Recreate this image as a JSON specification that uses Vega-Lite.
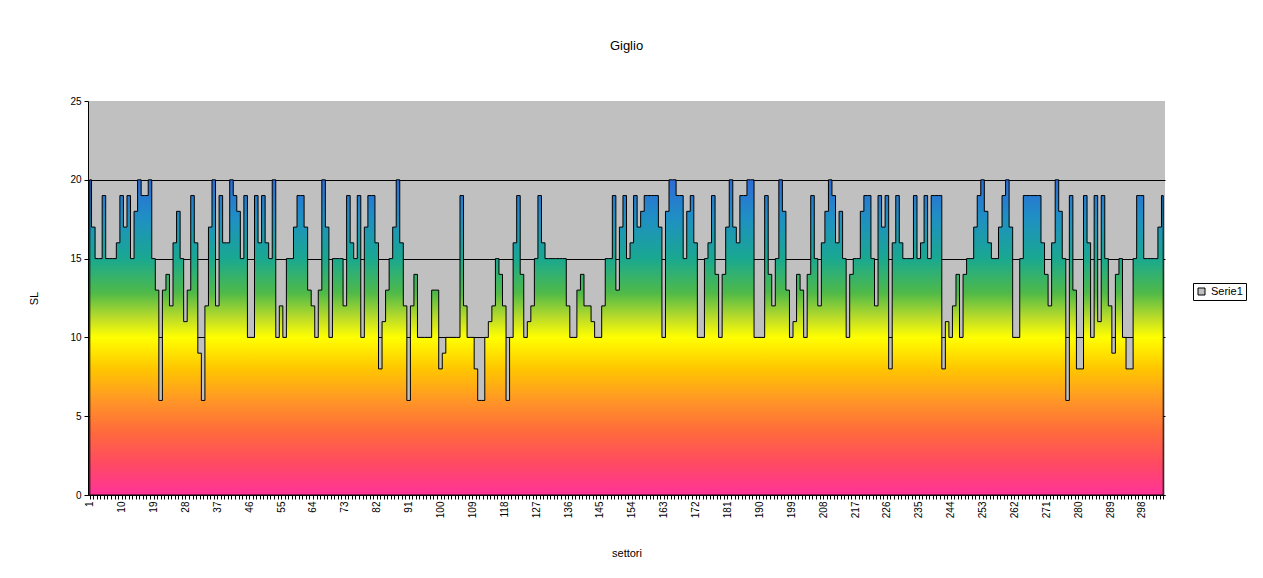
{
"$schema": "https://vega.github.io/schema/vega-lite/v6.json",
"width": 1077,
"height": 394,
"autosize": {"type": "none"},
"padding": {"left": 88, "top": 101, "right": 98, "bottom": 83},
"background": "white",
"title": {"text": "Giglio", "font": "Liberation Sans", "fontSize": 13, "fontWeight": "normal", "color": "black", "anchor": "middle", "frame": "group", "offset": 30, "baseline": "bottom"},
"config": {"view": {"fill": "#C0C0C0", "stroke": null}},
"data": {"values": [
{"settore":1,"SL":20},{"settore":2,"SL":17},{"settore":3,"SL":15},{"settore":4,"SL":15},{"settore":5,"SL":19},{"settore":6,"SL":15},{"settore":7,"SL":15},{"settore":8,"SL":15},{"settore":9,"SL":16},{"settore":10,"SL":19},
{"settore":11,"SL":17},{"settore":12,"SL":19},{"settore":13,"SL":15},{"settore":14,"SL":18},{"settore":15,"SL":20},{"settore":16,"SL":19},{"settore":17,"SL":19},{"settore":18,"SL":20},{"settore":19,"SL":15},{"settore":20,"SL":13},
{"settore":21,"SL":6},{"settore":22,"SL":13},{"settore":23,"SL":14},{"settore":24,"SL":12},{"settore":25,"SL":16},{"settore":26,"SL":18},{"settore":27,"SL":15},{"settore":28,"SL":11},{"settore":29,"SL":13},{"settore":30,"SL":19},
{"settore":31,"SL":16},{"settore":32,"SL":9},{"settore":33,"SL":6},{"settore":34,"SL":12},{"settore":35,"SL":17},{"settore":36,"SL":20},{"settore":37,"SL":12},{"settore":38,"SL":19},{"settore":39,"SL":16},{"settore":40,"SL":16},
{"settore":41,"SL":20},{"settore":42,"SL":19},{"settore":43,"SL":18},{"settore":44,"SL":15},{"settore":45,"SL":19},{"settore":46,"SL":10},{"settore":47,"SL":10},{"settore":48,"SL":19},{"settore":49,"SL":16},{"settore":50,"SL":19},
{"settore":51,"SL":16},{"settore":52,"SL":15},{"settore":53,"SL":20},{"settore":54,"SL":10},{"settore":55,"SL":12},{"settore":56,"SL":10},{"settore":57,"SL":15},{"settore":58,"SL":15},{"settore":59,"SL":17},{"settore":60,"SL":19},
{"settore":61,"SL":19},{"settore":62,"SL":17},{"settore":63,"SL":13},{"settore":64,"SL":12},{"settore":65,"SL":10},{"settore":66,"SL":13},{"settore":67,"SL":20},{"settore":68,"SL":17},{"settore":69,"SL":10},{"settore":70,"SL":15},
{"settore":71,"SL":15},{"settore":72,"SL":15},{"settore":73,"SL":12},{"settore":74,"SL":19},{"settore":75,"SL":16},{"settore":76,"SL":15},{"settore":77,"SL":19},{"settore":78,"SL":10},{"settore":79,"SL":17},{"settore":80,"SL":19},
{"settore":81,"SL":19},{"settore":82,"SL":16},{"settore":83,"SL":8},{"settore":84,"SL":11},{"settore":85,"SL":13},{"settore":86,"SL":15},{"settore":87,"SL":17},{"settore":88,"SL":20},{"settore":89,"SL":16},{"settore":90,"SL":12},
{"settore":91,"SL":6},{"settore":92,"SL":12},{"settore":93,"SL":14},{"settore":94,"SL":10},{"settore":95,"SL":10},{"settore":96,"SL":10},{"settore":97,"SL":10},{"settore":98,"SL":13},{"settore":99,"SL":13},{"settore":100,"SL":8},
{"settore":101,"SL":9},{"settore":102,"SL":10},{"settore":103,"SL":10},{"settore":104,"SL":10},{"settore":105,"SL":10},{"settore":106,"SL":19},{"settore":107,"SL":12},{"settore":108,"SL":10},{"settore":109,"SL":10},{"settore":110,"SL":8},
{"settore":111,"SL":6},{"settore":112,"SL":6},{"settore":113,"SL":10},{"settore":114,"SL":11},{"settore":115,"SL":12},{"settore":116,"SL":15},{"settore":117,"SL":14},{"settore":118,"SL":12},{"settore":119,"SL":6},{"settore":120,"SL":10},
{"settore":121,"SL":16},{"settore":122,"SL":19},{"settore":123,"SL":14},{"settore":124,"SL":10},{"settore":125,"SL":11},{"settore":126,"SL":12},{"settore":127,"SL":15},{"settore":128,"SL":19},{"settore":129,"SL":16},{"settore":130,"SL":15},
{"settore":131,"SL":15},{"settore":132,"SL":15},{"settore":133,"SL":15},{"settore":134,"SL":15},{"settore":135,"SL":15},{"settore":136,"SL":12},{"settore":137,"SL":10},{"settore":138,"SL":10},{"settore":139,"SL":13},{"settore":140,"SL":14},
{"settore":141,"SL":12},{"settore":142,"SL":12},{"settore":143,"SL":11},{"settore":144,"SL":10},{"settore":145,"SL":10},{"settore":146,"SL":12},{"settore":147,"SL":15},{"settore":148,"SL":15},{"settore":149,"SL":19},{"settore":150,"SL":13},
{"settore":151,"SL":17},{"settore":152,"SL":19},{"settore":153,"SL":15},{"settore":154,"SL":16},{"settore":155,"SL":19},{"settore":156,"SL":17},{"settore":157,"SL":18},{"settore":158,"SL":19},{"settore":159,"SL":19},{"settore":160,"SL":19},
{"settore":161,"SL":19},{"settore":162,"SL":17},{"settore":163,"SL":10},{"settore":164,"SL":18},{"settore":165,"SL":20},{"settore":166,"SL":20},{"settore":167,"SL":19},{"settore":168,"SL":19},{"settore":169,"SL":15},{"settore":170,"SL":18},
{"settore":171,"SL":19},{"settore":172,"SL":16},{"settore":173,"SL":10},{"settore":174,"SL":10},{"settore":175,"SL":15},{"settore":176,"SL":16},{"settore":177,"SL":19},{"settore":178,"SL":14},{"settore":179,"SL":10},{"settore":180,"SL":14},
{"settore":181,"SL":17},{"settore":182,"SL":20},{"settore":183,"SL":17},{"settore":184,"SL":16},{"settore":185,"SL":19},{"settore":186,"SL":19},{"settore":187,"SL":20},{"settore":188,"SL":20},{"settore":189,"SL":10},{"settore":190,"SL":10},
{"settore":191,"SL":10},{"settore":192,"SL":19},{"settore":193,"SL":14},{"settore":194,"SL":12},{"settore":195,"SL":15},{"settore":196,"SL":20},{"settore":197,"SL":18},{"settore":198,"SL":13},{"settore":199,"SL":10},{"settore":200,"SL":11},
{"settore":201,"SL":14},{"settore":202,"SL":13},{"settore":203,"SL":10},{"settore":204,"SL":14},{"settore":205,"SL":19},{"settore":206,"SL":15},{"settore":207,"SL":12},{"settore":208,"SL":16},{"settore":209,"SL":18},{"settore":210,"SL":20},
{"settore":211,"SL":19},{"settore":212,"SL":16},{"settore":213,"SL":18},{"settore":214,"SL":15},{"settore":215,"SL":10},{"settore":216,"SL":14},{"settore":217,"SL":15},{"settore":218,"SL":15},{"settore":219,"SL":18},{"settore":220,"SL":19},
{"settore":221,"SL":19},{"settore":222,"SL":15},{"settore":223,"SL":12},{"settore":224,"SL":19},{"settore":225,"SL":17},{"settore":226,"SL":19},{"settore":227,"SL":8},{"settore":228,"SL":16},{"settore":229,"SL":19},{"settore":230,"SL":16},
{"settore":231,"SL":15},{"settore":232,"SL":15},{"settore":233,"SL":15},{"settore":234,"SL":19},{"settore":235,"SL":15},{"settore":236,"SL":16},{"settore":237,"SL":19},{"settore":238,"SL":15},{"settore":239,"SL":19},{"settore":240,"SL":19},
{"settore":241,"SL":19},{"settore":242,"SL":8},{"settore":243,"SL":11},{"settore":244,"SL":10},{"settore":245,"SL":12},{"settore":246,"SL":14},{"settore":247,"SL":10},{"settore":248,"SL":14},{"settore":249,"SL":15},{"settore":250,"SL":15},
{"settore":251,"SL":17},{"settore":252,"SL":19},{"settore":253,"SL":20},{"settore":254,"SL":18},{"settore":255,"SL":16},{"settore":256,"SL":15},{"settore":257,"SL":15},{"settore":258,"SL":17},{"settore":259,"SL":19},{"settore":260,"SL":20},
{"settore":261,"SL":17},{"settore":262,"SL":10},{"settore":263,"SL":10},{"settore":264,"SL":15},{"settore":265,"SL":19},{"settore":266,"SL":19},{"settore":267,"SL":19},{"settore":268,"SL":19},{"settore":269,"SL":19},{"settore":270,"SL":16},
{"settore":271,"SL":14},{"settore":272,"SL":12},{"settore":273,"SL":16},{"settore":274,"SL":20},{"settore":275,"SL":18},{"settore":276,"SL":15},{"settore":277,"SL":6},{"settore":278,"SL":19},{"settore":279,"SL":13},{"settore":280,"SL":8},
{"settore":281,"SL":8},{"settore":282,"SL":19},{"settore":283,"SL":16},{"settore":284,"SL":10},{"settore":285,"SL":19},{"settore":286,"SL":11},{"settore":287,"SL":19},{"settore":288,"SL":15},{"settore":289,"SL":12},{"settore":290,"SL":9},
{"settore":291,"SL":14},{"settore":292,"SL":15},{"settore":293,"SL":10},{"settore":294,"SL":8},{"settore":295,"SL":8},{"settore":296,"SL":15},{"settore":297,"SL":19},{"settore":298,"SL":19},{"settore":299,"SL":15},{"settore":300,"SL":15},
{"settore":301,"SL":15},{"settore":302,"SL":15},{"settore":303,"SL":17},{"settore":304,"SL":19}
]},
"layer": [
{
"mark": {"type": "area", "interpolate": "step", "stroke": "black", "strokeWidth": 1, "fillOpacity": 1,
"fill": {"gradient": "linear", "x1": 0, "y1": 0, "x2": 0, "y2": 1, "stops": [
{"offset": 0, "color": "#2D6BD8"}, {"offset": 0.12, "color": "#1F8FC4"}, {"offset": 0.25, "color": "#19A890"}, {"offset": 0.36, "color": "#50BA48"}, {"offset": 0.44, "color": "#BEDD28"}, {"offset": 0.5, "color": "#FFFF00"}, {"offset": 0.6, "color": "#FFC600"}, {"offset": 0.7, "color": "#FF9626"}, {"offset": 0.8, "color": "#FF6A3C"}, {"offset": 0.9, "color": "#FF4A62"}, {"offset": 1, "color": "#FF3399"}]}},
"encoding": {
"x": {"field": "settore", "type": "ordinal", "scale": {"type": "point", "padding": 0.5},
"axis": {"title": "settori", "labelAngle": -90, "labelExpr": "(datum.value - 1) % 9 === 0 ? datum.label : ''", "labelOverlap": false, "tickSize": 4, "tickColor": "black", "domainColor": "black", "labelColor": "black", "labelFont": "Liberation Sans", "labelFontSize": 10, "labelPadding": 2, "titleFont": "Liberation Sans", "titleFontSize": 11, "titleFontWeight": "normal", "titleColor": "black", "titlePadding": 30, "grid": false}},
"y": {"field": "SL", "type": "quantitative", "scale": {"domain": [0, 25], "nice": false},
"axis": {"title": "SL", "values": [0, 5, 10, 15, 20, 25], "grid": true, "gridColor": {"condition": {"test": "datum.value === 25", "value": "transparent"}, "value": "black"}, "gridWidth": 1, "tickSize": 4, "tickColor": "black", "domainColor": "black", "labelColor": "black", "labelFont": "Liberation Sans", "labelFontSize": 10, "labelPadding": 3, "titleFont": "Liberation Sans", "titleFontSize": 11, "titleFontWeight": "normal", "titleColor": "black", "titlePadding": 30}}
}
},
{
"mark": {"type": "square", "opacity": 0},
"encoding": {
"x": {"field": "settore", "type": "ordinal"},
"y": {"field": "SL", "type": "quantitative"},
"color": {"datum": "Serie1", "scale": {"range": ["#C0C0C0"]},
"legend": {"orient": "none", "legendX": 1105, "legendY": 182, "title": null, "padding": 3, "strokeColor": "black", "fillColor": "white", "symbolType": "square", "symbolSize": 49, "symbolStrokeColor": "black", "symbolStrokeWidth": 1, "symbolOpacity": 1, "labelFont": "Liberation Sans", "labelFontSize": 11, "labelColor": "black", "labelOffset": 4}}
}
}
]
}
